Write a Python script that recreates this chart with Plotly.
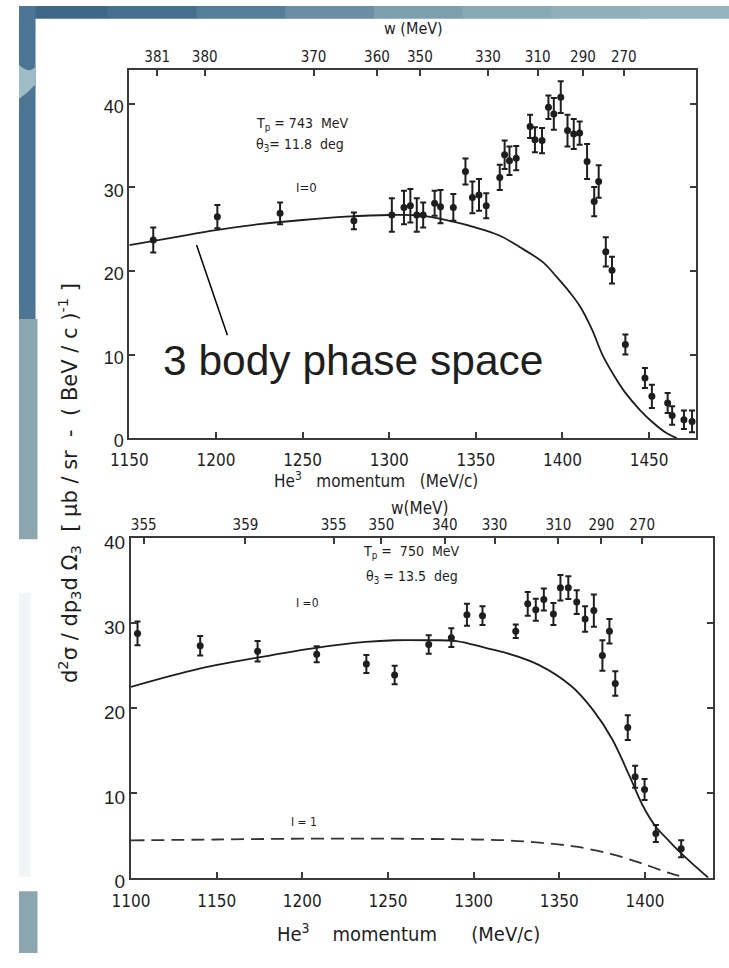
import plotly.graph_objects as go

W, H = 729, 968

# ---------------- data ----------------
# upper panel : Tp = 743 MeV, theta3 = 11.8 deg
top_p = [1163.8, 1200.8, 1237.0, 1279.6, 1301.5, 1308.5, 1312.2, 1315.9, 1319.6, 1326.2,
         1329.6, 1337.0, 1344.0, 1348.0, 1351.8, 1356.0, 1363.8, 1366.6, 1369.4, 1373.3,
         1381.3, 1384.1, 1388.2, 1391.9, 1395.0, 1399.0, 1402.9, 1406.5, 1409.9, 1414.2,
         1418.3, 1420.9, 1425.0, 1428.6, 1436.3, 1447.6, 1451.6, 1460.7, 1463.3, 1470.1, 1474.8]
top_y = [23.7, 26.5, 26.9, 26.0, 26.7, 27.6, 27.8, 26.7, 26.7, 28.1,
         27.7, 27.6, 31.9, 28.8, 29.1, 27.8, 31.2, 33.9, 33.2, 33.5,
         37.3, 35.7, 35.6, 39.6, 38.8, 40.8, 36.8, 36.4, 36.5, 33.1,
         28.3, 30.7, 22.3, 20.1, 11.2, 7.2, 5.0, 4.2, 2.7, 2.2, 2.0]
top_err = [1.5, 1.4, 1.3, 1.0, 2.0, 2.0, 2.0, 2.0, 1.5, 1.5,
           2.0, 1.6, 1.55, 1.9, 1.9, 1.5, 1.5, 1.7, 1.7, 1.45,
           1.4, 1.5, 1.5, 1.4, 1.9, 1.9, 1.9, 1.8, 1.4, 2.1,
           1.75, 1.95, 1.75, 1.6, 1.2, 1.2, 1.4, 1.2, 1.1, 1.1, 1.3]

top_curve_p = [1150, 1175, 1200, 1225, 1250, 1275, 1300, 1320, 1337, 1350, 1363, 1375,
               1389, 1397, 1404, 1410, 1417, 1423, 1430, 1436, 1445, 1452, 1460, 1466]
top_curve_y = [23.1, 24.0, 24.9, 25.6, 26.1, 26.5, 26.7, 26.6, 25.9, 25.2, 24.3, 22.9,
               21.0, 19.2, 17.5, 15.8, 13.0, 10.0, 7.4, 5.5, 3.3, 1.9, 0.6, 0.0]

top_w_pos = [1166.1, 1193.5, 1256.3, 1292.9, 1317.7, 1357.0, 1385.7, 1411.8, 1435.4]
top_w_text = ["381", "380", "370", "360", "350", "330", "310", "290", "270"]

# lower panel : Tp = 750 MeV, theta3 = 13.5 deg
bot_p = [1103.8, 1140.4, 1173.9, 1208.4, 1237.4, 1253.9, 1273.8, 1287.0, 1296.1, 1305.2,
         1324.6, 1331.6, 1336.3, 1341.0, 1346.6, 1350.7, 1355.3, 1360.2, 1365.1, 1370.2,
         1375.2, 1379.3, 1382.7, 1390.0, 1394.3, 1399.8, 1406.4, 1421.2]
bot_y = [28.8, 27.35, 26.7, 26.35, 25.2, 23.9, 27.5, 28.3, 31.0, 30.9,
         29.07, 32.3, 31.6, 32.8, 31.1, 34.2, 34.2, 32.5, 30.5, 31.5,
         26.2, 29.07, 22.9, 17.7, 11.9, 10.4, 5.2, 3.4]
bot_err = [1.4, 1.15, 1.2, 0.95, 1.05, 1.1, 1.1, 1.1, 1.3, 1.1,
           0.8, 1.4, 1.3, 1.3, 1.3, 1.5, 1.35, 1.4, 1.5, 1.9,
           1.8, 1.45, 1.45, 1.45, 1.3, 1.25, 1.0, 1.0]

bot_curve_p = [1100, 1140, 1174, 1208, 1237, 1254, 1273, 1290, 1307, 1319, 1338, 1357,
               1370, 1381, 1391, 1398.5, 1406, 1414, 1420, 1428, 1437]
bot_curve_y = [22.5, 24.65, 25.95, 27.1, 27.8, 28.0, 28.0, 27.9, 27.1, 26.5, 25.1, 22.6,
               19.7, 16.3, 12.0, 8.6, 6.1, 4.35, 3.1, 1.6, 0.0]

dash_p = [1100, 1150, 1200, 1250, 1300, 1320, 1340, 1360, 1380, 1395, 1405, 1415, 1424]
dash_y = [4.4, 4.5, 4.6, 4.6, 4.5, 4.4, 4.1, 3.65, 2.8, 1.9, 1.2, 0.5, 0.0]

bot_w_pos = [1107.4, 1166.8, 1218.3, 1246.2, 1283.2, 1312.2, 1349.5, 1374.6, 1398.4]
bot_w_text = ["355", "359", "355", "350", "340", "330", "310", "290", "270"]

top_xticks = [1150, 1200, 1250, 1300, 1350, 1400, 1450]
bot_xticks = [1100, 1150, 1200, 1250, 1300, 1350, 1400]
y_ticks = [0, 10, 20, 30, 40]

# ---------------- helpers ----------------
def px(x):
    return x / W


def py(y):
    return 1 - y / H


INK = "#1e1e1e"
SCAN_FONT = "Liberation Sans Narrow, DejaVu Sans Condensed, Liberation Sans, Arial, sans-serif"
SANS = "Liberation Sans, Arial, sans-serif"

fig = go.Figure()

# upper panel
fig.add_trace(go.Scatter(x=top_curve_p, y=top_curve_y, mode="lines", line=dict(color=INK, width=1.8, shape="spline"),
                         xaxis="x", yaxis="y", hoverinfo="skip", showlegend=False))
fig.add_trace(go.Scatter(x=top_p, y=top_y, mode="markers",
                         marker=dict(color=INK, size=7),
                         error_y=dict(type="data", array=top_err, color=INK, thickness=2, width=3),
                         xaxis="x", yaxis="y", showlegend=False))
fig.add_trace(go.Scatter(x=top_w_pos, y=[None] * len(top_w_pos), mode="markers", xaxis="x3", yaxis="y",
                         showlegend=False, hoverinfo="skip"))

# lower panel
fig.add_trace(go.Scatter(x=bot_curve_p, y=bot_curve_y, mode="lines", line=dict(color=INK, width=1.8, shape="spline"),
                         xaxis="x2", yaxis="y2", hoverinfo="skip", showlegend=False))
fig.add_trace(go.Scatter(x=dash_p, y=dash_y, mode="lines",
                         line=dict(color="#333333", width=1.8, dash="13px,7px", shape="spline"),
                         xaxis="x2", yaxis="y2", hoverinfo="skip", showlegend=False))
fig.add_trace(go.Scatter(x=bot_p, y=bot_y, mode="markers",
                         marker=dict(color=INK, size=7),
                         error_y=dict(type="data", array=bot_err, color=INK, thickness=2, width=3),
                         xaxis="x2", yaxis="y2", showlegend=False))
fig.add_trace(go.Scatter(x=bot_w_pos, y=[None] * len(bot_w_pos), mode="markers", xaxis="x4", yaxis="y2",
                         showlegend=False, hoverinfo="skip"))

ax_common = dict(showline=True, linecolor="#3a3a3a", linewidth=2, ticks="inside", ticklen=6,
                 tickwidth=1.5, tickcolor="#3a3a3a", showgrid=False, zeroline=False)

top_dom_x = [px(113.3), px(695)]
top_dom_y = [py(441.7), py(65)]
bot_dom_x = [px(115), px(713)]
bot_dom_y = [py(891), py(544.3)]

fig.update_layout(
    width=W, height=H, autosize=False,
    margin=dict(l=0, r=0, t=0, b=0),
    paper_bgcolor="white", plot_bgcolor="rgba(0,0,0,0)",
    showlegend=False,
    xaxis=dict(domain=top_dom_x, anchor="y", range=[1150, 1477], tickvals=top_xticks, ticklabelstandoff=5,
               tickfont=dict(family=SCAN_FONT, size=17, color=INK), mirror=True, **ax_common),
    yaxis=dict(domain=top_dom_y, anchor="x", range=[0, 44.1], tickvals=y_ticks, mirror="ticks",
               ticklabelshift=3, tickfont=dict(family=SANS, size=18, color=INK), **ax_common),
    xaxis3=dict(overlaying="x", side="top", anchor="y", range=[1150, 1477], tickvals=top_w_pos,
                ticktext=top_w_text, tickfont=dict(family=SCAN_FONT, size=15, color=INK), **ax_common),
    xaxis2=dict(domain=bot_dom_x, anchor="y2", range=[1100, 1440], tickvals=bot_xticks, ticklabelstandoff=7,
                tickfont=dict(family=SCAN_FONT, size=17, color=INK), mirror=True, **ax_common),
    yaxis2=dict(domain=bot_dom_y, anchor="x2", range=[0, 40], tickvals=y_ticks, mirror="ticks",
                ticklabelshift=4, tickfont=dict(family=SANS, size=19, color=INK), **ax_common),
    xaxis4=dict(overlaying="x2", side="top", anchor="y2", range=[1100, 1440], tickvals=bot_w_pos,
                ticktext=bot_w_text, tickfont=dict(family=SCAN_FONT, size=15, color=INK), **ax_common),
)

# ---------------- background decoration (slide template) ----------------
shapes = []
band_cols = ["#3f6888", "#46708f", "#557e98", "#6a8fa4", "#7c9fae", "#88aab6", "#8fb0bb", "#93b3bd"]
seg = W / len(band_cols)
for i, c in enumerate(band_cols):
    shapes.append(dict(type="rect", xref="paper", yref="paper", x0=px(i * seg), x1=px((i + 1) * seg + 1),
                       y0=py(13), y1=py(0), fillcolor=c, line=dict(width=0), layer="below"))
shapes.append(dict(type="rect", xref="paper", yref="paper", x0=0, x1=px(17), y0=py(320), y1=py(0),
                   fillcolor="#4d7694", line=dict(width=0), layer="below"))
shapes.append(dict(type="path", xref="paper", yref="paper",
                   path=f"M 0 {py(60)} Q {px(10)} {py(70)} {px(17)} {py(62)} L {px(17)} {py(80)} "
                        f"Q {px(10)} {py(88)} 0 {py(95)} Z",
                   fillcolor="#9fbcc6", line=dict(width=0), layer="below"))
shapes.append(dict(type="rect", xref="paper", yref="paper", x0=0, x1=px(19), y0=py(545), y1=py(320),
                   fillcolor="#8ca6b0", line=dict(width=0), layer="below"))
shapes.append(dict(type="rect", xref="paper", yref="paper", x0=0, x1=px(19), y0=py(968), y1=py(905),
                   fillcolor="#8ca6b0", line=dict(width=0), layer="below"))
shapes.append(dict(type="rect", xref="paper", yref="paper", x0=0, x1=px(12), y0=py(890), y1=py(600),
                   fillcolor="#f1f5f7", line=dict(width=0), layer="below"))
# pointer line to the phase-space curve
shapes.append(dict(type="line", xref="x", yref="y", x0=1188.8, y0=23.1, x1=1206.6, y1=12.3,
                   line=dict(color="black", width=1.5)))
fig.update_layout(shapes=shapes)

# ---------------- annotations ----------------
ann = []


def add(text, x, y, xref, yref, size, family=SCAN_FONT, xanchor="center", yanchor="middle", angle=0):
    ann.append(dict(text=text, x=x, y=y, xref=xref, yref=yref, showarrow=False, xanchor=xanchor,
                    yanchor=yanchor, textangle=angle, font=dict(family=family, size=size, color=INK)))


# upper panel
add("w (MeV)", px(405), py(23), "paper", "paper", 16)
add("T<sub>p</sub> = 743  MeV", 1222, 37.6, "x", "y", 14, xanchor="left")
add("θ<sub>3</sub>= 11.8  deg", 1222, 35.1, "x", "y", 14, xanchor="left")
add("I=0", 1252, 30.0, "x", "y", 13)
add("3 body phase space", 1168.0, 9.3, "x", "y", 42.5, family=SANS, xanchor="left")
add("He<sup>3</sup>   momentum   (MeV/c)", px(367), py(484), "paper", "paper", 17)

# lower panel
add("w(MeV)", px(412), py(513), "paper", "paper", 17)
add("T<sub>p</sub> =  750  MeV", 1264, 38.4, "x2", "y2", 14)
add("θ<sub>3</sub> = 13.5  deg", 1264, 35.5, "x2", "y2", 14)
add("I =0", 1203, 32.4, "x2", "y2", 12)
add("I = 1", 1201, 6.6, "x2", "y2", 12)
add("He<sup>3</sup>    momentum      (MeV/c)", px(400), py(948), "paper", "paper", 20)

# shared y title
add("d<sup>2</sup>σ / dp<sub>3</sub>d Ω<sub>3</sub>  [ μb / sr  -  ( BeV / c )<sup>-1</sup> ]", px(52), py(488),
    "paper", "paper", 21, family="DejaVu Sans, Liberation Sans, sans-serif", angle=-90)

fig.update_layout(annotations=ann)

fig.write_html("out.html", post_script="document.body.style.margin='0';document.body.style.padding='0';")
